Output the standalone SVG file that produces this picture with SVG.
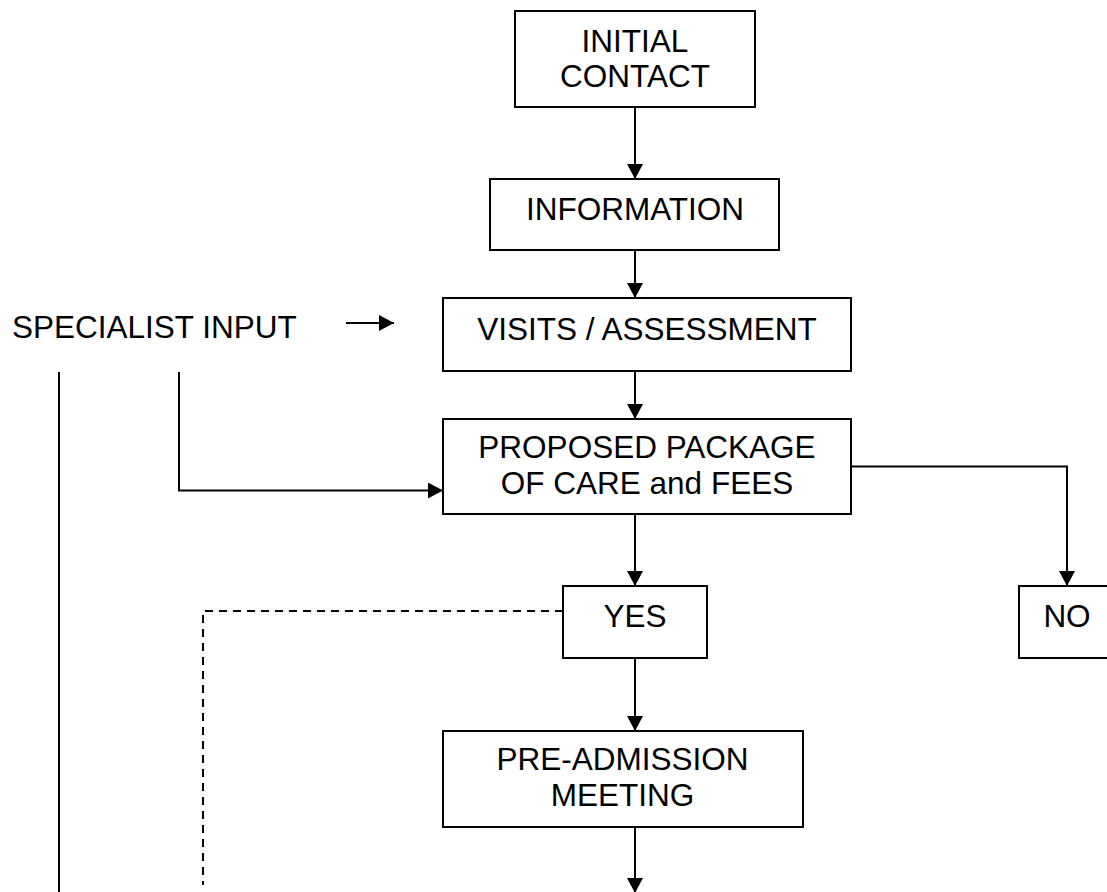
<svg xmlns="http://www.w3.org/2000/svg" width="1107" height="892" viewBox="0 0 1107 892">
<style>
.box{fill:#fff;stroke:#000;stroke-width:2}
.t{font-family:"Liberation Sans",Arial,sans-serif;font-size:31.5px;fill:#000;text-anchor:middle}
.c{fill:none;stroke:#000;stroke-width:2}
.d{fill:none;stroke:#000;stroke-width:2;stroke-dasharray:8,6}
</style>
<defs>
<marker id="ah" markerUnits="userSpaceOnUse" markerWidth="16" markerHeight="16" refX="15" refY="8" orient="auto">
<path d="M0,0 L15,8 L0,16 z" fill="#000"/>
</marker>
</defs>
<rect width="1107" height="892" fill="#fff"/>
<g id="connectors">
<line class="c" x1="635" y1="107" x2="635" y2="179" marker-end="url(#ah)"/>
<line class="c" x1="635" y1="250" x2="635" y2="298" marker-end="url(#ah)"/>
<line class="c" x1="635" y1="371" x2="635" y2="419" marker-end="url(#ah)"/>
<line class="c" x1="635" y1="514" x2="635" y2="586" marker-end="url(#ah)"/>
<line class="c" x1="635" y1="658" x2="635" y2="731" marker-end="url(#ah)"/>
<line class="c" x1="635" y1="827" x2="635" y2="893" marker-end="url(#ah)"/>
<polyline class="c" points="851,466.5 1067,466.5 1067,586" marker-end="url(#ah)"/>
<line class="c" x1="346" y1="323" x2="394" y2="323" marker-end="url(#ah)"/>
<polyline class="c" points="179,372 179,490.5 443,490.5" marker-end="url(#ah)"/>
<line class="c" x1="59" y1="372" x2="59" y2="892"/>
<polyline class="d" points="563,611 203,611 203,885"/>
</g>
<g id="initial-contact">
<rect class="box" x="515" y="11" width="240" height="96"/>
<text class="t" x="635" y="52">INITIAL</text>
<text class="t" x="635" y="87">CONTACT</text>
</g>
<g id="information">
<rect class="box" x="490" y="179" width="289" height="71"/>
<text class="t" x="635" y="220">INFORMATION</text>
</g>
<g id="specialist-input">
<text class="t" x="12" y="338" style="text-anchor:start">SPECIALIST INPUT</text>
</g>
<g id="visits-assessment">
<rect class="box" x="443" y="298" width="408" height="73"/>
<text class="t" x="647" y="340">VISITS / ASSESSMENT</text>
</g>
<g id="proposed-package">
<rect class="box" x="443" y="419" width="408" height="95"/>
<text class="t" x="647" y="458">PROPOSED PACKAGE</text>
<text class="t" x="647" y="494">OF CARE and FEES</text>
</g>
<g id="yes">
<rect class="box" x="563" y="586" width="144" height="72"/>
<text class="t" x="635" y="627">YES</text>
</g>
<g id="no">
<rect class="box" x="1019" y="586" width="95" height="72"/>
<text class="t" x="1067" y="627">NO</text>
</g>
<g id="pre-admission-meeting">
<rect class="box" x="443" y="731" width="360" height="96"/>
<text class="t" x="622.5" y="770">PRE-ADMISSION</text>
<text class="t" x="622.5" y="806">MEETING</text>
</g>
</svg>
